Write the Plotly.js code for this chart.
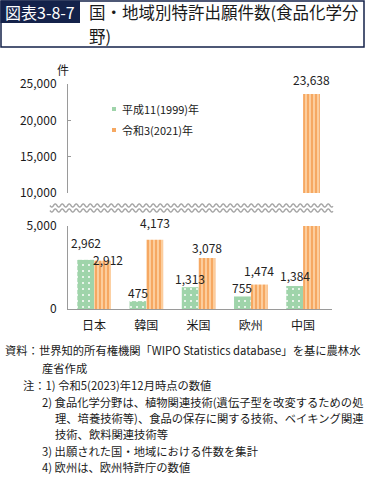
<!DOCTYPE html>
<html>
<head>
<meta charset="utf-8">
<script src="https://cdn.plot.ly/plotly-3.0.1.min.js"></script>
<style>
html,body{margin:0;padding:0;background:#fff;}
#chart{width:366px;height:483px;}
</style>
</head>
<body>
<div id="chart"></div>
<script>
// ---- data ----
const categories = ["日本", "韓国", "米国", "欧州", "中国"];
const series1999 = [2962, 475, 1313, 755, 1384];
const series2021 = [2912, 4173, 3078, 1474, 23638];
const seriesNames = ["平成11(1999)年", "令和3(2021)年"];
const lowerTicks = [0, 5000];
const upperTicks = [10000, 15000, 20000, 25000];

// ---- layout geometry (pixels) ----
const FW = 366, FH = 483;
const L = 68, R = 34, T = 84, Bm = 174;
const W = FW - L - R, H = FH - T - Bm;
const BOTTOM = FH - Bm;
const PX = p => (p - L) / W;
const PY = p => (BOTTOM - p) / H;

const FONT = "Noto Sans CJK JP, Noto Sans, sans-serif";
const GREEN = "#9fd4aa", ORANGE = "#f6a862", ORANGE_LT = "#fdd2a4";
const NAVY = "#14224a";

const greenPattern = {shape: ".", bgcolor: GREEN, fgcolor: "#ffffff", size: 6, solidity: 0.09, fillmode: "replace"};
const orangePattern = {shape: "|", bgcolor: ORANGE, fgcolor: ORANGE_LT, size: 4, solidity: 0.45, fillmode: "replace"};

function bar(vals, name, pattern, color, xa, ya) {
  return {
    type: "bar", x: categories, y: vals, name: name, xaxis: xa, yaxis: ya,
    marker: {color: color, pattern: pattern, line: {width: 0}},
    hoverinfo: "skip", showlegend: false
  };
}

const data = [
  bar(series1999, seriesNames[0], greenPattern, GREEN, "x", "y"),
  bar(series2021, seriesNames[1], orangePattern, ORANGE, "x", "y"),
  bar(series1999, seriesNames[0], greenPattern, GREEN, "x2", "y2"),
  bar(series2021, seriesNames[1], orangePattern, ORANGE, "x2", "y2")
];

// value labels
const lowerMax = lowerTicks[lowerTicks.length - 1];
const upperMax = upperTicks[upperTicks.length - 1];
const labelLift1999 = [16, 8, 8, 8, 10];
const labelLift2021 = [0, 16, 9, 13, 13];
const labelNudge2021 = [5, 0, 0, 0, 0];
const barOffset = 0.161;
const fmt = v => v.toLocaleString("en-US");
const annotations = [];
categories.forEach((c, i) => {
  [[series1999, -barOffset, labelLift1999, null], [series2021, barOffset, labelLift2021, labelNudge2021]].forEach(([s, off, lift, nudge]) => {
    const v = s[i];
    annotations.push({
      x: i + off, y: v, xref: "x", yref: v > lowerMax ? "y2" : "y",
      text: fmt(v), showarrow: false, xanchor: "center", yanchor: "middle",
      yshift: lift[i] + 1, xshift: nudge ? nudge[i] : 0,
      font: {family: FONT, size: 12, color: "#222"}
    });
  });
});

function txt(text, px, py, size, opts) {
  return Object.assign({
    text: text, x: PX(px), y: PY(py), xref: "paper", yref: "paper",
    showarrow: false, xanchor: "left", yanchor: "middle",
    font: {family: FONT, size: size, color: "#1a1a1a"}
  }, opts || {});
}

// title
annotations.push(txt("図表3-8-7", 40, 12, 16, {xanchor: "center", font: {family: FONT, size: 16, color: "#ffffff"}}));
annotations.push(txt("国・地域別特許出願件数(食品化学分", 87, 12, 16.5));
annotations.push(txt("野)", 87, 36, 16.5));
// unit
annotations.push(txt("件", 63, 69, 12, {xanchor: "center"}));
// legend text
annotations.push(txt(seriesNames[0], 120, 109, 11));
annotations.push(txt(seriesNames[1], 120, 130, 11));
// notes
const NF = 11.3;
annotations.push(txt("資料：世界知的所有権機関「WIPO Statistics database」を基に農林水", 3, 350, NF));
annotations.push(txt("産省作成", 40, 368, NF));
annotations.push(txt("注：1) 令和5(2023)年12月時点の数値", 21, 385, NF));
annotations.push(txt("2) 食品化学分野は、植物関連技術(遺伝子型を改変するための処", 40, 402, NF));
annotations.push(txt("理、培養技術等)、食品の保存に関する技術、ベイキング関連", 53, 418, NF));
annotations.push(txt("技術、飲料関連技術等", 53, 434, NF));
annotations.push(txt("3) 出願された国・地域における件数を集計", 40, 451, NF));
annotations.push(txt("4) 欧州は、欧州特許庁の数値", 40, 467, NF));

// wavy break lines
function wave(py) {
  let d = "";
  for (let p = 50; p <= 333; p += 0.5) {
    const y = py + 1.6 * Math.sin((p - 50) / 7 * 2 * Math.PI);
    d += (d ? " L" : "M") + PX(p).toFixed(5) + "," + PY(y).toFixed(5);
  }
  return d;
}

const shapes = [
  {type: "rect", xref: "paper", yref: "paper", x0: PX(50), x1: PX(334), y0: PY(212), y1: PY(204), fillcolor: "#fff", line: {width: 0}, layer: "above"},
  {type: "path", xref: "paper", yref: "paper", path: wave(205.5), line: {color: "#a8a8a8", width: 1.4}, layer: "above"},
  {type: "path", xref: "paper", yref: "paper", path: wave(210.5), line: {color: "#a8a8a8", width: 1.4}, layer: "above"},
  // title box
  {type: "rect", xref: "paper", yref: "paper", x0: PX(1), x1: PX(364), y0: PY(1), y1: PY(47), line: {color: NAVY, width: 1.5}, fillcolor: "rgba(0,0,0,0)"},
  {type: "rect", xref: "paper", yref: "paper", x0: PX(0.5), x1: PX(80), y0: PY(0.5), y1: PY(23), line: {width: 0}, fillcolor: NAVY},
  // legend swatches
  {type: "rect", xref: "paper", yref: "paper", x0: PX(112), x1: PX(116), y0: PY(107), y1: PY(111), line: {width: 0}, fillcolor: GREEN},
  {type: "rect", xref: "paper", yref: "paper", x0: PX(112), x1: PX(116), y0: PY(128), y1: PY(132), line: {width: 0}, fillcolor: ORANGE}
];

const axisCommon = {
  showgrid: false, zeroline: false, showline: true, linecolor: "#9a9a9a", linewidth: 1,
  ticks: "inside", ticklen: 3, tickcolor: "#9a9a9a", tickformat: ",d",
  ticklabelstandoff: 8,
  tickfont: {family: FONT, size: 12, color: "#1a1a1a"}, fixedrange: true
};

const layout = {
  width: FW, height: FH,
  margin: {l: L, r: R, t: T, b: Bm, pad: 0},
  paper_bgcolor: "#fff", plot_bgcolor: "#fff",
  showlegend: false,
  barmode: "group", bargap: 0.356, bargroupgap: 0,
  font: {family: FONT},
  xaxis: {domain: [0, 1], anchor: "y", showline: true, linecolor: "#9a9a9a", ticks: "", showgrid: false,
          tickfont: {family: FONT, size: 12, color: "#1a1a1a"}, ticklabelstandoff: 6, fixedrange: true},
  xaxis2: {matches: "x", anchor: "y2", visible: false},
  yaxis: Object.assign({}, axisCommon, {domain: [0, PY(226)], range: [0, lowerMax], tickvals: lowerTicks}),
  yaxis2: Object.assign({}, axisCommon, {domain: [PY(193), 1], range: [upperTicks[0], upperMax], tickvals: upperTicks}),
  annotations: annotations,
  shapes: shapes
};

Plotly.newPlot("chart", data, layout, {staticPlot: true, displayModeBar: false});
</script>
</body>
</html>
